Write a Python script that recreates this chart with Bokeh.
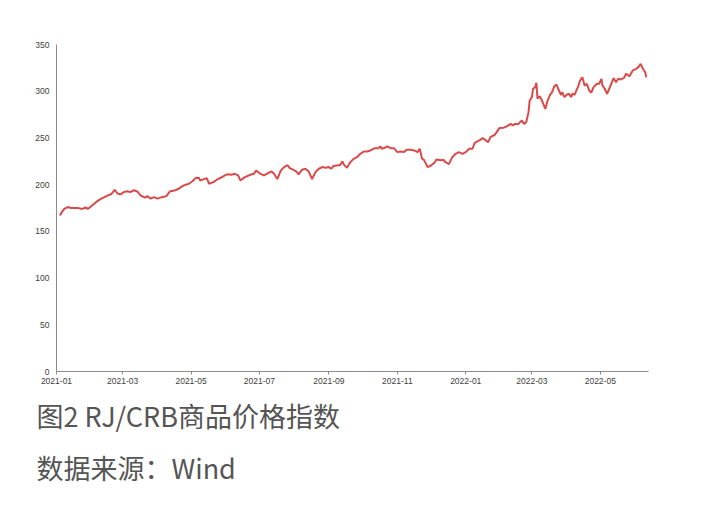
import pandas as pd
from bokeh.plotting import figure
from bokeh.models import Range1d, FixedTicker, DatetimeTickFormatter, Title
from bokeh.embed import file_html
from bokeh.resources import INLINE

dates = [
    "2021-01-04", "2021-01-06", "2021-01-08", "2021-01-11", "2021-01-14", "2021-01-20", "2021-01-24",
    "2021-01-27", "2021-01-29", "2021-02-02", "2021-02-06", "2021-02-10", "2021-02-15", "2021-02-19",
    "2021-02-22", "2021-02-24", "2021-02-27", "2021-03-02", "2021-03-05", "2021-03-08", "2021-03-11",
    "2021-03-14", "2021-03-17", "2021-03-21", "2021-03-23", "2021-03-26", "2021-03-29", "2021-04-01",
    "2021-04-05", "2021-04-09", "2021-04-12", "2021-04-17", "2021-04-20", "2021-04-24", "2021-04-29",
    "2021-05-02", "2021-05-05", "2021-05-08", "2021-05-09", "2021-05-12", "2021-05-15", "2021-05-17",
    "2021-05-21", "2021-05-25", "2021-05-30", "2021-06-02", "2021-06-06", "2021-06-09", "2021-06-12",
    "2021-06-14", "2021-06-18", "2021-06-23", "2021-06-26", "2021-06-28", "2021-07-02", "2021-07-05",
    "2021-07-09", "2021-07-12", "2021-07-14", "2021-07-17", "2021-07-20", "2021-07-23", "2021-07-26",
    "2021-07-28", "2021-07-31", "2021-08-03", "2021-08-05", "2021-08-08", "2021-08-11", "2021-08-14",
    "2021-08-17", "2021-08-20", "2021-08-23", "2021-08-26", "2021-08-29", "2021-09-01", "2021-09-03",
    "2021-09-05", "2021-09-08", "2021-09-11", "2021-09-13", "2021-09-14", "2021-09-17", "2021-09-20",
    "2021-09-23", "2021-09-26", "2021-09-29", "2021-10-02", "2021-10-05", "2021-10-08", "2021-10-12",
    "2021-10-15", "2021-10-17", "2021-10-18", "2021-10-21", "2021-10-23", "2021-10-26", "2021-10-29",
    "2021-11-01", "2021-11-04", "2021-11-07", "2021-11-09", "2021-11-13", "2021-11-16", "2021-11-19",
    "2021-11-21", "2021-11-23", "2021-11-25", "2021-11-28", "2021-12-01", "2021-12-04", "2021-12-06",
    "2021-12-10", "2021-12-12", "2021-12-14", "2021-12-17", "2021-12-20", "2021-12-23", "2021-12-26",
    "2021-12-29", "2022-01-01", "2022-01-04", "2022-01-07", "2022-01-09", "2022-01-13", "2022-01-16",
    "2022-01-19", "2022-01-21", "2022-01-23", "2022-01-27", "2022-01-29", "2022-01-31", "2022-02-04",
    "2022-02-07", "2022-02-10", "2022-02-12", "2022-02-14", "2022-02-17", "2022-02-20", "2022-02-22",
    "2022-02-24", "2022-02-26", "2022-02-27", "2022-03-01", "2022-03-02", "2022-03-04", "2022-03-05",
    "2022-03-06", "2022-03-08", "2022-03-10", "2022-03-13", "2022-03-15", "2022-03-17", "2022-03-19",
    "2022-03-21", "2022-03-23", "2022-03-25", "2022-03-27", "2022-03-28", "2022-03-30", "2022-04-01",
    "2022-04-03", "2022-04-05", "2022-04-06", "2022-04-08", "2022-04-11", "2022-04-13", "2022-04-15",
    "2022-04-17", "2022-04-19", "2022-04-21", "2022-04-23", "2022-04-25", "2022-04-28", "2022-04-30",
    "2022-05-02", "2022-05-03", "2022-05-05", "2022-05-07", "2022-05-09", "2022-05-12", "2022-05-13",
    "2022-05-15", "2022-05-17", "2022-05-19", "2022-05-22", "2022-05-24", "2022-05-27", "2022-05-30",
    "2022-06-02", "2022-06-04", "2022-06-06", "2022-06-08", "2022-06-10", "2022-06-11",
]

index_values = [
    167, 171, 174, 176, 175, 175, 174,
    175.6, 174, 178, 182, 185, 188, 190,
    194.5, 191, 189.5, 192, 193, 192, 194,
    192.7, 188.4, 186, 187.7, 185, 186.6, 185,
    186.6, 187.7, 192.7, 194, 195.6, 199, 201,
    203.4, 207, 207.4, 204.5, 205.6, 207, 201,
    202.7, 206, 209, 211, 210.6, 211.6, 209.9,
    204.5, 208, 210.6, 211.6, 215, 211.6, 209.9,
    212.7, 214, 211.6, 206, 215, 218.8, 221,
    217.7, 216, 214, 211, 216, 217, 214,
    206, 213.4, 217, 218.8, 218, 218.8, 217,
    220, 220.5, 221, 225, 222, 218, 224,
    227.6, 229.4, 233, 235.5, 235.5, 236.6, 239,
    239, 241, 238.4, 239.5, 241, 239, 239,
    234.8, 235.5, 234.8, 237.4, 237.4, 236.6, 234.8,
    238.4, 228, 226, 218.8, 220.5, 223.4, 227,
    226, 226.6, 224, 222, 229.4, 233, 234.8,
    233, 234.8, 238.4, 238.4, 244.8, 247.3, 249.8,
    247.3, 245.5, 250.9, 253.4, 257, 260.5, 261,
    262.6, 265, 263.4, 265, 265, 268.7, 265,
    267, 277.6, 290, 293.7, 302.6, 304.4, 309,
    292, 294.8, 290, 281, 290, 295.5, 299,
    305.5, 307, 301, 296, 299, 293.7, 296,
    297.3, 293.7, 297.3, 296, 304.4, 311.5, 315,
    306, 308, 301, 298.4, 304.4, 308, 308,
    313.3, 306, 302.6, 297.3, 302.6, 311.5, 314,
    309.7, 313.3, 312.6, 314, 318.7, 316, 322.3,
    324, 325.8, 329.3, 324, 320.5, 315,
]

tick_months = ["2021-01", "2021-03", "2021-05", "2021-07", "2021-09",
               "2021-11", "2022-01", "2022-03", "2022-05"]

caption_title = "图2 RJ/CRB商品价格指数"
caption_source = "数据来源：Wind"

x = pd.to_datetime(dates)
tick_ms = [pd.Timestamp(m + "-01").value / 1e6 for m in tick_months]

p = figure(
    width=705, height=505,
    x_axis_type="datetime",
    output_backend="svg", toolbar_location=None,
    min_border_left=56, min_border_right=57,
    min_border_top=44, min_border_bottom=134,
)
p.x_range = Range1d(pd.Timestamp("2021-01-01"), pd.Timestamp("2022-06-13"))
p.y_range = Range1d(0, 350)

p.line(x, index_values, line_color="#D94A4A", line_width=2)

p.xgrid.visible = False
p.ygrid.visible = False
p.outline_line_color = None
p.background_fill_color = "white"
p.border_fill_color = "white"

ax = p.xaxis[0]
ax.ticker = FixedTicker(ticks=tick_ms)
ax.formatter = DatetimeTickFormatter(
    years="%Y-%m", months="%Y-%m", days="%Y-%m", hours="%Y-%m",
    hourmin="%Y-%m", minutes="%Y-%m", minsec="%Y-%m", seconds="%Y-%m",
    milliseconds="%Y-%m", microseconds="%Y-%m",
)
ax.axis_line_color = "#8c8c8c"
ax.major_tick_line_color = "#8c8c8c"
ax.major_tick_out = 3
ax.major_tick_in = 0
ax.minor_tick_line_color = None
ax.major_label_text_font = "Liberation Sans"
ax.major_label_text_font_size = "8.5px"
ax.major_label_text_color = "#404040"
ax.major_label_standoff = 3

ay = p.yaxis[0]
ay.ticker = FixedTicker(ticks=[0, 50, 100, 150, 200, 250, 300, 350])
ay.axis_line_color = "#8c8c8c"
ay.major_tick_line_color = None
ay.major_tick_out = 0
ay.major_tick_in = 0
ay.minor_tick_line_color = None
ay.major_label_text_font = "Liberation Sans"
ay.major_label_text_font_size = "8.5px"
ay.major_label_text_color = "#404040"
ay.major_label_standoff = 7

t1 = Title(text=caption_title, align="left", offset=-20, standoff=14,
           text_font="Noto Sans CJK SC", text_font_size="27px",
           text_font_style="normal", text_color="#555555")
t2 = Title(text=caption_source, align="left", offset=-20, standoff=9,
           text_font="Noto Sans CJK SC", text_font_size="27px",
           text_font_style="normal", text_color="#555555")
p.add_layout(t1, "below")
p.add_layout(t2, "below")

open("out.html", "w").write(file_html(p, INLINE))
